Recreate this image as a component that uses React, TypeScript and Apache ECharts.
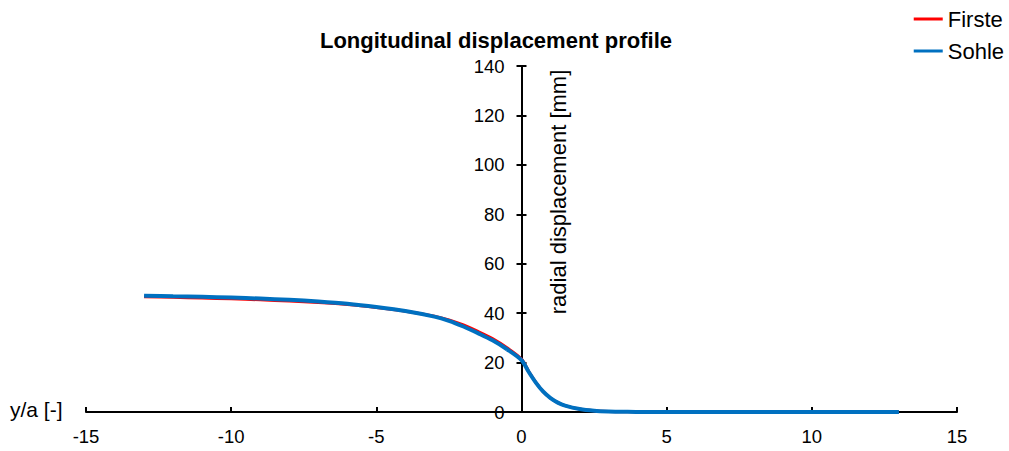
import React, { useEffect, useRef } from "react";
import * as echarts from "echarts";

// Normalised distance to the tunnel face y/a [-]
const positions = [
  -13, -12, -11, -10, -9, -8, -7, -6, -5, -4, -3, -2.5, -2, -1.5, -1, -0.5, 0,
  0.25, 0.5, 0.75, 1, 1.25, 1.5, 2, 2.5, 3, 3.5, 4, 5, 6, 7, 8, 9, 10, 11, 12, 13,
];

// Radial displacement at the crown [mm]
const firste = [
  46.6, 46.4, 46.1, 45.8, 45.4, 44.9, 44.3, 43.5, 42.3, 40.8, 38.8, 37.3, 35.2,
  32.6, 29.7, 26.0, 21.4, 16.4, 11.9, 8.2, 5.6, 3.8, 2.6, 1.2, 0.5, 0.2, 0.1, 0,
  0, 0, 0, 0, 0, 0, 0, 0, 0,
];

// Radial displacement at the invert [mm]
const sohle = [
  47.0, 46.8, 46.6, 46.3, 45.9, 45.4, 44.7, 43.8, 42.5, 40.9, 38.6, 36.9, 34.6,
  31.9, 29.0, 25.4, 21.0, 16.2, 11.8, 8.2, 5.6, 3.8, 2.6, 1.2, 0.5, 0.2, 0.1, 0,
  0, 0, 0, 0, 0, 0, 0, 0, 0,
];

const FONT = "'Liberation Sans', Arial, sans-serif";
const GRID_LEFT = 86;
const GRID_RIGHT = 52;
const WIDTH = 1009;
// distance from each grid edge to x = 0, where the vertical axis sits
const HALF_PLOT = (WIDTH - GRID_LEFT - GRID_RIGHT) / 2;

export default function App() {
  const ref = useRef<HTMLDivElement>(null);

  useEffect(() => {
    if (!ref.current) return;
    const chart = echarts.init(ref.current, undefined, { renderer: "svg" });
    const axisColor = { color: "#000", width: 2 };
    const yBase = {
      type: "value",
      min: 0,
      max: 140,
      interval: 20,
      offset: -HALF_PLOT,
      axisLine: { show: true, onZero: false, lineStyle: axisColor },
      axisTick: { show: true, length: 5, lineStyle: axisColor },
      splitLine: { show: false },
    };
    chart.setOption({
      animation: false,
      textStyle: { fontFamily: FONT },
      title: {
        text: "Longitudinal displacement profile",
        left: 491,
        textAlign: "center",
        top: 24,
        textStyle: { fontFamily: FONT, fontSize: 22, fontWeight: "bold", color: "#000" },
      },
      legend: {
        orient: "vertical",
        right: 0,
        top: 3,
        itemGap: 10,
        itemWidth: 29,
        itemHeight: 3,
        icon: "rect",
        textStyle: { fontFamily: FONT, fontSize: 22, color: "#000" },
        data: ["Firste", "Sohle"],
      },
      grid: { left: GRID_LEFT, right: GRID_RIGHT, top: 66, bottom: 39, containLabel: false },
      xAxis: {
        type: "value",
        min: -15,
        max: 15,
        interval: 5,
        axisLine: { onZero: false, lineStyle: axisColor },
        axisTick: { inside: true, length: 5, lineStyle: axisColor },
        axisLabel: { color: "#000", fontSize: 18.5, fontFamily: FONT, margin: 15 },
        splitLine: { show: false },
      },
      yAxis: [
        {
          ...yBase,
          position: "left",
          axisLabel: { color: "#000", fontSize: 18.5, fontFamily: FONT, margin: 17 },
        },
        {
          ...yBase,
          position: "right",
          axisLabel: { show: false },
        },
      ],
      graphic: [
        {
          type: "text",
          x: 10,
          y: 409,
          style: {
            text: "y/a [-]",
            fontFamily: FONT,
            fontSize: 21,
            fill: "#000",
            verticalAlign: "middle",
          },
        },
        {
          type: "text",
          x: 558,
          y: 192,
          rotation: Math.PI / 2,
          style: {
            text: "radial displacement [mm]",
            fontFamily: FONT,
            fontSize: 22,
            fill: "#000",
            align: "center",
            verticalAlign: "middle",
          },
        },
      ],
      series: [
        {
          name: "Firste",
          type: "line",
          data: positions.map((x, i) => [x, firste[i]]),
          showSymbol: false,
          smooth: 0.3,
          lineStyle: { color: "#FF0000", width: 3 },
          itemStyle: { color: "#FF0000" },
          z: 2,
        },
        {
          name: "Sohle",
          type: "line",
          data: positions.map((x, i) => [x, sohle[i]]),
          showSymbol: false,
          smooth: 0.3,
          lineStyle: { color: "#0070C0", width: 4 },
          itemStyle: { color: "#0070C0" },
          z: 3,
        },
      ],
    });
    return () => chart.dispose();
  }, []);

  return (
    <div
      ref={ref}
      style={{ position: "fixed", left: 0, top: 0, width: WIDTH, height: 451, background: "#fff" }}
    />
  );
}
